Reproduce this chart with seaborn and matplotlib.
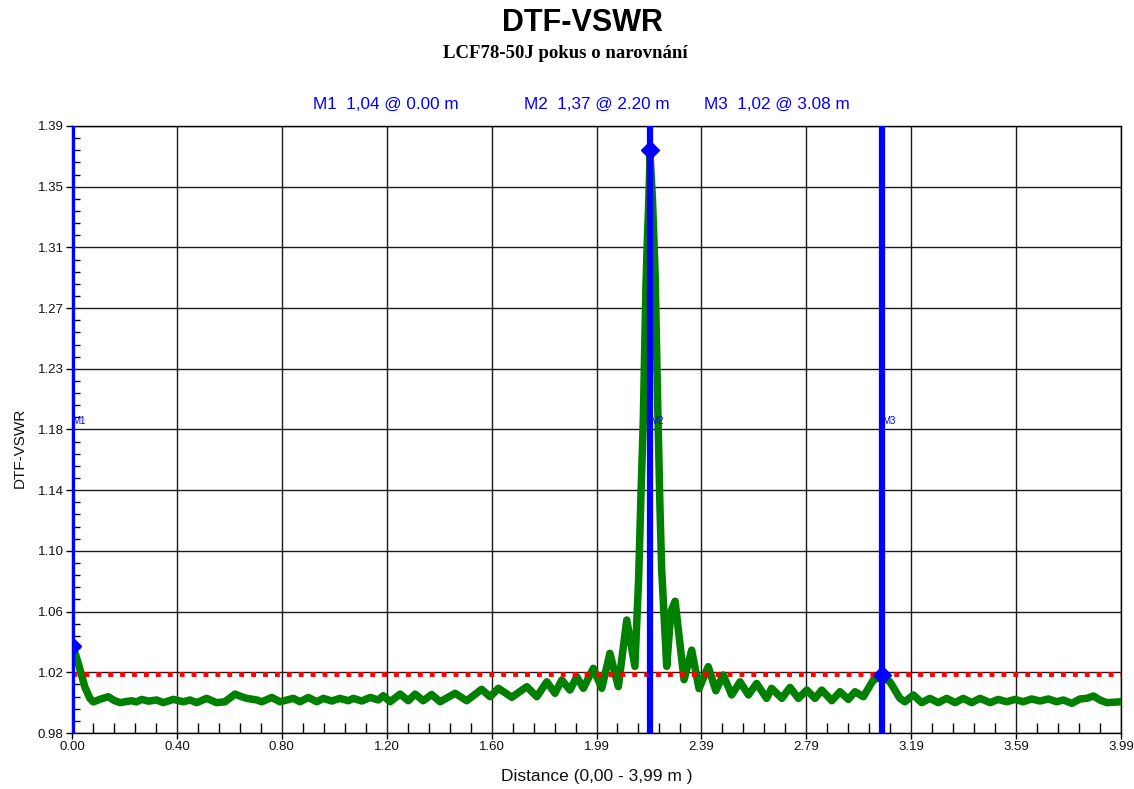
import numpy as np
import matplotlib
matplotlib.use("Agg")
import matplotlib.pyplot as plt
import matplotlib.transforms as mtransforms
from matplotlib.ticker import AutoMinorLocator
import seaborn as sns

# ---------------- data ----------------
dist = [
    0.000, 0.010, 0.024, 0.049, 0.068, 0.081, 0.110, 0.138, 0.160, 0.183,
    0.205, 0.227, 0.245, 0.265, 0.290, 0.322, 0.347, 0.385, 0.423, 0.449,
    0.474, 0.512, 0.550, 0.582, 0.620, 0.645, 0.665, 0.703, 0.722, 0.760,
    0.791, 0.842, 0.867, 0.899, 0.931, 0.956, 0.988, 1.019, 1.051, 1.070,
    1.102, 1.134, 1.165, 1.184, 1.210, 1.248, 1.279, 1.305, 1.336, 1.368,
    1.400, 1.457, 1.501, 1.558, 1.590, 1.622, 1.673, 1.730, 1.768, 1.806,
    1.837, 1.863, 1.894, 1.920, 1.945, 1.983, 2.015, 2.046, 2.078, 2.110,
    2.141, 2.155, 2.165, 2.173, 2.178, 2.183, 2.188, 2.193, 2.199, 2.208,
    2.218, 2.228, 2.236, 2.243, 2.262, 2.278, 2.294, 2.328, 2.357, 2.385,
    2.420, 2.449, 2.477, 2.509, 2.541, 2.573, 2.604, 2.642, 2.661, 2.700,
    2.731, 2.763, 2.795, 2.826, 2.852, 2.890, 2.921, 2.953, 2.978, 3.010,
    3.048, 3.080, 3.111, 3.149, 3.168, 3.200, 3.232, 3.263, 3.295, 3.327,
    3.359, 3.390, 3.422, 3.454, 3.492, 3.523, 3.555, 3.587, 3.618, 3.650,
    3.682, 3.714, 3.745, 3.771, 3.803, 3.834, 3.860, 3.885, 3.910, 3.936,
    3.990,
]
vswr = [
    1.040, 1.035, 1.027, 1.011, 1.0034, 1.001, 1.003, 1.0045, 1.002, 1.0005,
    1.0012, 1.0018, 1.0010, 1.0027, 1.0015, 1.0023, 1.0005, 1.0027, 1.0011, 1.0023,
    1.0005, 1.0034, 1.0005, 1.0011, 1.0063, 1.0045, 1.0034, 1.0023, 1.0011, 1.0040,
    1.0011, 1.0034, 1.0011, 1.0040, 1.0011, 1.0034, 1.0016, 1.0034, 1.0018, 1.0034,
    1.0016, 1.0040, 1.0023, 1.0052, 1.0011, 1.0063, 1.0018, 1.0063, 1.0018, 1.0060,
    1.0011, 1.0068, 1.0018, 1.0095, 1.0045, 1.0102, 1.0041, 1.0113, 1.0045, 1.0146,
    1.0068, 1.0158, 1.0090, 1.0180, 1.0102, 1.0237, 1.0102, 1.0338, 1.0113, 1.0563,
    1.0250, 1.0830, 1.1460, 1.1910, 1.2360, 1.2810, 1.3110, 1.3350, 1.3700, 1.3400,
    1.2900, 1.2000, 1.1350, 1.0900, 1.0250, 1.0620, 1.0690, 1.0160, 1.0360, 1.0100,
    1.0248, 1.0085, 1.0192, 1.0057, 1.0146, 1.0057, 1.0135, 1.0034, 1.0102, 1.0034,
    1.0108, 1.0034, 1.0090, 1.0034, 1.0090, 1.0018, 1.0079, 1.0027, 1.0079, 1.0045,
    1.0158, 1.0180, 1.0146, 1.0034, 1.0011, 1.0057, 1.0005, 1.0034, 1.0005, 1.0034,
    1.0005, 1.0034, 1.0005, 1.0034, 1.0005, 1.0027, 1.0011, 1.0027, 1.0011, 1.0030,
    1.0016, 1.0030, 1.0011, 1.0023, 1.0000, 1.0030, 1.0034, 1.0050, 1.0023, 1.0005,
    1.0011,
]

limit_line = 1.02

marker_names = ["M1", "M2", "M3"]
marker_dist = [0.00, 2.20, 3.08]
marker_val = [1.039, 1.374, 1.019]

x_tick_labels = ["0.00", "0.40", "0.80", "1.20", "1.60", "1.99",
                 "2.39", "2.79", "3.19", "3.59", "3.99"]
y_tick_labels = ["0.98", "1.02", "1.06", "1.10", "1.14", "1.18",
                 "1.23", "1.27", "1.31", "1.35", "1.39"]

title = "DTF-VSWR"
subtitle = "LCF78-50J pokus o narovnání"
x_label = "Distance (0,00 - 3,99 m )"
y_label = "DTF-VSWR"

# ---------------- style ----------------
sns.set_theme(style="white")
plt.rcParams["font.family"] = ["Liberation Sans", "DejaVu Sans"]

W, H = 1134, 789
fig = plt.figure(figsize=(W / 100, H / 100), dpi=100)
fig.patch.set_facecolor("white")
ax = fig.add_axes([72 / W, 56 / H, 1049 / W, 607 / H])
ax.set_facecolor("white")

xmin, xmax = 0.0, 3.99
ymin, ymax = 0.98, 1.39
ax.set_xlim(xmin, xmax)
ax.set_ylim(ymin, ymax)

# grid and ticks
ax.set_xticks(np.linspace(xmin, xmax, 11))
ax.set_yticks(np.linspace(ymin, ymax, 11))
ax.set_xticklabels(x_tick_labels)
ax.set_yticklabels(y_tick_labels)
ax.xaxis.set_minor_locator(AutoMinorLocator(5))
ax.yaxis.set_minor_locator(AutoMinorLocator(5))
ax.grid(True, which="major", color="#1a1a1a", linewidth=1.0, zorder=0)
ax.set_axisbelow(True)

ax.tick_params(axis="both", which="major", direction="out", length=4,
               width=1, color="black", labelsize=9.5, labelcolor="#111111",
               pad=2, bottom=True, left=True, top=False, right=False)
ax.tick_params(axis="x", which="minor", direction="in", length=7.5, width=1,
               color="black", bottom=True, top=False)
ax.tick_params(axis="y", which="minor", direction="in", length=6, width=1,
               color="black", left=True, right=False)

for s in ax.spines.values():
    s.set_color("black")
    s.set_linewidth(1.0)
    s.set_visible(True)

# trace
sns.lineplot(x=dist, y=vswr, ax=ax, color="#008000", linewidth=5.4,
             zorder=3, sort=False, estimator=None)

# limit line
ax.axhline(limit_line, color="#ff0000", linewidth=3.5,
           linestyle=(0, (1.0, 1.45)), dash_capstyle="butt", zorder=4)

# markers
trans = mtransforms.blended_transform_factory(ax.transData, ax.transAxes)
for name, mx, mv in zip(marker_names, marker_dist, marker_val):
    ax.axvline(mx, color="#0000ff", linewidth=4.5, zorder=5)
    ax.plot([mx], [mv], marker="D", markersize=9, color="#0000ff",
            zorder=6, clip_on=True)
    ax.text(mx, 0.514, name, transform=trans, color="#0000ff",
            fontsize=7, ha="left", va="center", zorder=7)

# header marker readouts
header_cx = [386, 597, 777]
for name, mx, mv, cx in zip(marker_names, marker_dist, marker_val, header_cx):
    txt = f"{name}  {mv:.2f}".replace(".", ",") + f" @ {mx:.2f} m"
    fig.text(cx / W, 1 - 104 / H, txt, color="#0000ff", fontsize=12.3,
             ha="center", va="center")

# titles
fig.text(582 / W, 1 - 23 / H, title, fontsize=22,
         fontweight="bold", ha="center", va="center", color="black")
fig.text(565 / W, 1 - 53 / H, subtitle, fontsize=13.5,
         fontweight="bold", ha="center", va="center", color="black",
         family=["Liberation Serif", "DejaVu Serif"])

ax.set_xlabel(x_label, fontsize=12.5, color="#111111")
ax.xaxis.set_label_coords(0.5, -0.060)
ax.set_ylabel(y_label, fontsize=11, color="#111111")
ax.yaxis.set_label_coords(-0.043, 0.47)

fig.savefig("out.png", dpi=100, facecolor="white")
